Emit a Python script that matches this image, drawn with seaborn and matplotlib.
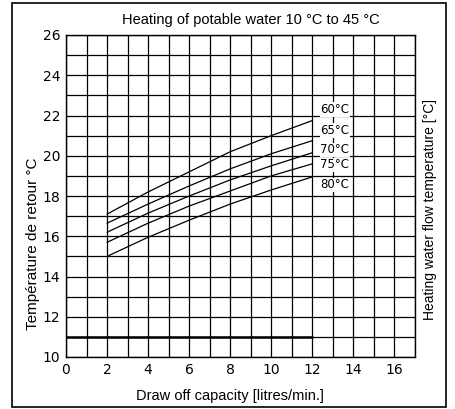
import matplotlib
matplotlib.use('Agg')
import matplotlib.pyplot as plt
from matplotlib.patches import Rectangle
from matplotlib.ticker import MultipleLocator
import pandas as pd
import seaborn as sns

sns.set_style('white')
plt.rcParams['font.family'] = ['Liberation Sans', 'DejaVu Sans']
plt.rcParams['text.color'] = 'black'
plt.rcParams['axes.labelcolor'] = 'black'
plt.rcParams['xtick.color'] = 'black'
plt.rcParams['ytick.color'] = 'black'

# draw off capacity (litres/min)
capacity = [2, 4, 6, 8, 10, 12]
# return temperature for each flow temperature
t60 = [17.1, 18.2, 19.2, 20.2, 21.0, 21.75]
t65 = [16.65, 17.6, 18.5, 19.35, 20.1, 20.75]
t70 = [16.2, 17.15, 18.0, 18.8, 19.5, 20.15]
t75 = [15.7, 16.65, 17.5, 18.25, 19.0, 19.6]
t80 = [15.0, 15.95, 16.8, 17.6, 18.3, 18.95]
flow_labels = ['60°C', '65°C', '70°C', '75°C', '80°C']
label_y = [22.3, 21.25, 20.3, 19.55, 18.55]

rows = []
for name, vals in zip(flow_labels, [t60, t65, t70, t75, t80]):
    for c, v in zip(capacity, vals):
        rows.append({'capacity': c, 'temp': v, 'flow': name})
df = pd.DataFrame(rows)

fig = plt.figure(figsize=(4.56, 4.09), dpi=100)
ax = fig.add_axes([66/456, 1 - 357/409, (415-66)/456, (357-35)/409])

ax.set_xlim(0, 17)
ax.set_ylim(10, 26)
ax.xaxis.set_major_locator(MultipleLocator(2))
ax.xaxis.set_minor_locator(MultipleLocator(1))
ax.yaxis.set_major_locator(MultipleLocator(2))
ax.yaxis.set_minor_locator(MultipleLocator(1))
ax.grid(True, which='both', color='black', linewidth=0.9)
ax.tick_params(which='both', length=0, pad=4)
for lab in ax.get_xticklabels() + ax.get_yticklabels():
    lab.set_family('DejaVu Sans')
    lab.set_fontsize(10)
for s in ax.spines.values():
    s.set_color('black')
    s.set_linewidth(1.0)

# thicker scan line at 11
ax.plot([0, 12], [11, 11], color='black', linewidth=1.8)

sns.lineplot(data=df, x='capacity', y='temp', hue='flow',
             palette=['black'] * 5, linewidth=0.9, legend=False, ax=ax)

for name, y in zip(flow_labels, label_y):
    ax.text(13.1, y, name, ha='center', va='center', fontsize=8.5,
            family='DejaVu Sans',
            bbox=dict(facecolor='white', edgecolor='none', pad=0.5))

ax.set_xlabel('Draw off capacity [litres/min.]', fontsize=10.5)
ax.xaxis.set_label_coords((230 - 66) / 349, -0.099)
ax.set_ylabel('Température de retour °C', fontsize=11)
ax.yaxis.set_label_coords((40 - 66) / 349, (357 - 244) / 322)

fig.text(251/456, 1 - 20/409, 'Heating of potable water 10 °C to 45 °C',
         ha='center', va='center', fontsize=10.5)
fig.text(430/456, 1 - 210/409, 'Heating water flow temperature [°C]',
         ha='center', va='center', rotation=90, fontsize=10)

fig.patches.append(Rectangle((12.5/456, 2/409), 434/456, 404/409,
                             transform=fig.transFigure, fill=False,
                             edgecolor='black', linewidth=1.2))

fig.savefig('out.png', dpi=100)
